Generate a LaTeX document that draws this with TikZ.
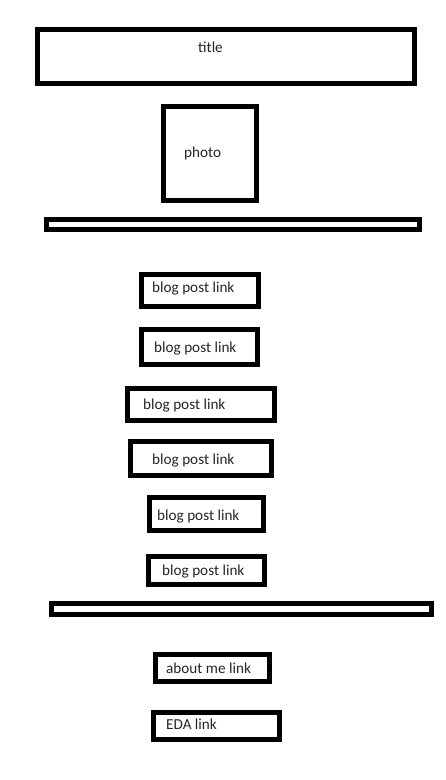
\documentclass[tikz,border=0pt]{standalone}
\usepackage{fontspec}
\setmainfont{Carlito}
\usepackage{tikz}
\usetikzlibrary{positioning}

\begin{document}
\begin{tikzpicture}[
  x=1pt,y=-1pt,
  box/.style={draw=black,line width=5pt,fill=white},
  lab/.style={anchor=west,inner sep=0pt,font=\fontsize{15.2}{17}\selectfont,color=black!85}
]
  \useasboundingbox[fill=white] (0,0) rectangle (446,780);
  % header
  \draw[box] (37.5,29.5) rectangle (414.5,83.5);
  \node[lab] (title) at (198,47.5) {title};
  \draw[box] (163.5,106.5) rectangle (256.5,200.5);
  \node[lab] (photo) at (184,153.5) {photo};
  \draw[box] (46.5,219.5) rectangle (419.5,229.5);
  % posts
  \draw[box] (141.5,274.5) rectangle (258.5,306.5);
  \node[lab] (post1) at (152,288.5) {blog post link};
  \draw[box] (141.5,329.5) rectangle (257.5,364.5);
  \node[lab] (post2) at (154,348.5) {blog post link};
  \draw[box] (127.5,388.5) rectangle (274.5,420.5);
  \node[lab] (post3) at (143,405.5) {blog post link};
  \draw[box] (130.5,441.5) rectangle (271.5,475.5);
  \node[lab] (post4) at (152,460.5) {blog post link};
  \draw[box] (149.5,497.5) rectangle (263.5,530.5);
  \node[lab] (post5) at (157,516.5) {blog post link};
  \draw[box] (148.5,556.5) rectangle (264.5,584.5);
  \node[lab] (post6) at (162,571.5) {blog post link};
  \draw[box] (51.5,603.5) rectangle (431.5,614.5);
  % footer
  \draw[box] (155.5,654.5) rectangle (269.5,681.5);
  \node[lab] (about) at (166,668.5) {about me link};
  \draw[box] (153.5,712.5) rectangle (279.5,739.5);
  \node[lab] (eda) at (166,724.5) {EDA link};
\end{tikzpicture}
\end{document}
